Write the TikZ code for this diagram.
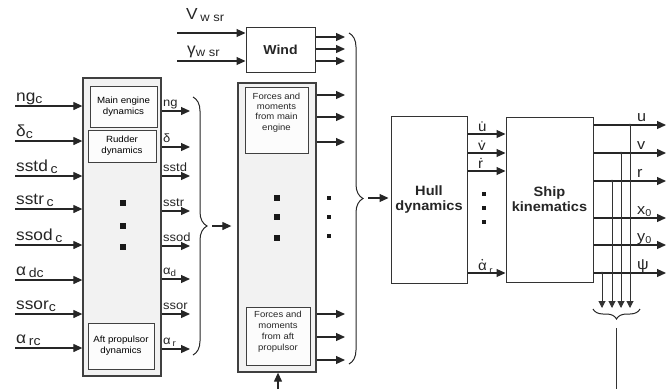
\documentclass[tikz,border=0pt]{standalone}
\usepackage{fontspec}
\setmainfont{Liberation Sans}[FakeStretch=1.08]
\usetikzlibrary{arrows.meta,decorations.pathreplacing}
\newcommand{\fs}[1]{\fontsize{#1}{#1}\selectfont}
\newcommand{\dn}[1]{\raisebox{-0.35ex}{#1}}
\begin{document}
\begin{tikzpicture}[x=1pt,y=-1pt,
  container/.style={draw=black!75,fill=black!5,line width=1.3pt,inner sep=0pt},
  inbox/.style={draw=black!75,fill=black!1,line width=1pt,inner sep=1pt,align=center,font=\fs{9}},
  intext/.style={inner sep=0pt,align=center,font=\fontsize{8.8}{10.2}\selectfont,text=black!85},
  mainbox/.style={draw=black!80,fill=white,line width=1pt,inner sep=1pt,align=center,font=\bfseries\fontsize{13.5}{15}\selectfont,text=black!85},
  arr/.style={draw=black!85,line width=1.2pt,-{Triangle[length=9pt,width=8pt]}},
  tap/.style={draw=black!80,line width=1pt,-{Triangle[length=7pt,width=7pt]}},
  ln/.style={draw=black!80,line width=1pt},
  brc/.style={draw=black!85,line width=1pt,decorate},
  inlab/.style={anchor=base west,inner sep=0pt,font=\fs{16},text=black!85},
  outlab/.style={anchor=base west,inner sep=0pt,font=\fs{12},text=black!85},
  rlab/.style={anchor=base west,inner sep=0pt,font=\fs{15},text=black!85},
  sq/.style={fill=black!90,minimum size=6pt,inner sep=0pt},
  sqs/.style={fill=black!90,minimum size=4pt,inner sep=0pt}]
\useasboundingbox (0,0) rectangle (669,389);

% ---------- left container ----------
\node[container,minimum width=78pt,minimum height=298pt] (L) at (122,227) {};
\node[inbox,minimum width=67pt,minimum height=41pt,align=center,font=\fontsize{9}{11}\selectfont] (me) at (123.5,106.5) {Main engine\\dynamics};
\node[inbox,minimum width=68pt,minimum height=32pt,font=\fontsize{9}{11}\selectfont] (rd) at (122,146) {Rudder\\dynamics};
\node[inbox,minimum width=66pt,minimum height=46pt,font=\fontsize{9}{11}\selectfont] (ap) at (121,346) {Aft propulsor\\dynamics};
\node[sq] (ld1) at (123,203) {};
\node[sq] (ld2) at (123,226) {};
\node[sq] (ld3) at (123,247) {};

\foreach \i/\y/\t in {1/106/{ng\dn{\fs{13}c}},2/141/{δ\dn{\fs{13}c}},3/176/{sstd\,\dn{\fs{13}c}},4/209/{sstr\,\dn{\fs{13}c}},
  5/245/{ssod\,\dn{\fs{13}c}},6/280/{α\,\dn{\fs{13}dc}},7/314/{ssor\dn{\fs{13}c}},8/348/{α\,\dn{\fs{13}rc}}}{
  \coordinate (in\i) at (15,\y);
  \node[inlab] (inl\i) at (16,\y-5) {\t};
  \draw[arr] (in\i) -- (in\i -| L.west);
}
\foreach \i/\y/\t in {1/111/{ng},2/147/{δ},3/176/{sstd},4/211/{sstr},
  5/246/{ssod},6/279/{α\dn{\fs{9}d}},7/314/{ssor},8/349/{α\,\dn{\fs{9}r}}}{
  \coordinate (lo\i) at (190,\y);
  \node[outlab] (lol\i) at (163,\y-5) {\t};
  \draw[arr] (lo\i -| L.east) -- (lo\i);
}
\draw[brc,decoration={brace,amplitude=14pt}] (193,97) -- (193,355);
\coordinate (b1) at (212,226);

% ---------- middle ----------
\node[container,minimum width=78pt,minimum height=289pt] (M) at (277,227.5) {};
\node[inbox,minimum width=63pt,minimum height=66pt] (fm) at (276.5,120) {};
\node[intext,anchor=north] (fmt) at (276.5,93) {Forces and\\moments\\from main\\engine};
\node[inbox,minimum width=64pt,minimum height=58pt] (fa) at (278,336) {};
\node[intext,anchor=north,font=\fontsize{8.8}{11}\selectfont] (fat) at (278,311) {Forces and\\moments\\from aft\\propulsor};
\node[sq] (md1) at (277,198) {};
\node[sq] (md2) at (277,217) {};
\node[sq] (md3) at (277,238) {};
\node[sqs] (rd1) at (329,198) {};
\node[sqs] (rd2) at (329,217) {};
\node[sqs] (rd3) at (329,236) {};
\draw[arr] (b1) -- ([xshift=-6pt]M.west |- b1);

\foreach \i/\y in {1/95,2/117,3/142,4/314,5/337,6/360}{
  \coordinate (mo\i) at (345,\y);
  \draw[arr] (mo\i -| M.east) -- (mo\i);
}
\coordinate (bot) at (278,389);
\draw[arr] (bot) -- (bot |- M.south);

% ---------- wind ----------
\node[mainbox,minimum width=69pt,minimum height=45pt,font=\bfseries\fs{13}] (W) at (280.5,49.5) {Wind};
\coordinate (wi1) at (177,33);
\coordinate (wi2) at (177,61);
\node[anchor=base west,inner sep=0pt,font=\fs{16},text=black!85] (vl) at (186,19) {V\,\dn{\fs{12}w sr}};
\node[anchor=base west,inner sep=0pt,font=\fs{16},text=black!85] (gl) at (187,54) {γ\dn{\fs{12}w sr}};
\draw[arr] (wi1) -- (wi1 -| W.west);
\draw[arr] (wi2) -- (wi2 -| W.west);
\foreach \i/\y in {1/37,2/49,3/61}{
  \coordinate (wo\i) at (345,\y);
  \draw[arr] (wo\i -| W.east) -- (wo\i);
}
\draw[brc,decoration={brace,amplitude=14pt}] (349,33) -- (349,364);
\coordinate (b2) at (368,198);

% ---------- hull & ship ----------
\node[mainbox,minimum width=76pt,minimum height=167pt] (H) at (429,199.5) {Hull\\dynamics};
\node[mainbox,minimum width=87pt,minimum height=165pt] (S) at (549.5,199.5) {Ship\\kinematics};
\draw[arr] (b2) -- ([xshift=-2pt]H.west |- b2);

\foreach \i/\y/\t in {1/134/{\.u},2/153/{\.v},3/171/{\.r},4/273/{α\,\dn{\fs{9}r}}}{
  \coordinate (ho\i) at (480,\y);
  \node[anchor=base west,inner sep=0pt,font=\fs{14},text=black!85] (hl\i) at (478,\y-2.5) {\t};
  \draw[arr] (ho\i -| H.east) -- (ho\i -| S.west);
}
\fill[black!85] ([xshift=4.2pt,yshift=3pt]hl4.north west) circle (0.9pt);
\node[sqs,minimum size=3.5pt] (hd1) at (484,194) {};
\node[sqs,minimum size=3.5pt] (hd2) at (484,208) {};
\node[sqs,minimum size=3.5pt] (hd3) at (484,222) {};

\foreach \i/\y/\t in {1/125/{u},2/153/{v},3/181/{r},4/218/{x\dn{\fs{10}0}},5/245/{y\dn{\fs{10}0}},6/273/{ψ}}{
  \coordinate (so\i) at (666,\y);
  \node[rlab] (sl\i) at (637,\y-4) {\t};
  \draw[arr] (so\i -| S.east) -- (so\i);
}
% taps
\coordinate (t1) at (630,125); \coordinate (e1) at (630,308);
\coordinate (t2) at (621,153); \coordinate (e2) at (621,308);
\coordinate (t3) at (612,181); \coordinate (e3) at (612,308);
\coordinate (t4) at (602,273); \coordinate (e4) at (602,308);
\foreach \i in {1,2,3,4}{
  \fill[black!80] (t\i) circle (1.3pt);
  \draw[tap] (t\i) -- (e\i);
}
\draw[brc,decoration={brace,amplitude=10pt}] (640,309) -- (593,309);
\coordinate (o1) at (616,328);
\coordinate (o2) at (616,389);
\draw[ln] (o1) -- (o2);
\end{tikzpicture}
\end{document}
